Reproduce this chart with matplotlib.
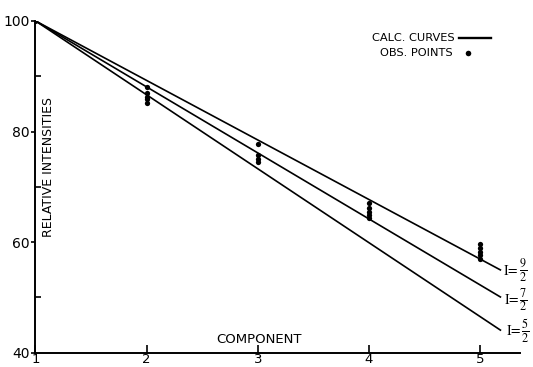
import matplotlib
matplotlib.use("Agg")
import matplotlib.pyplot as plt

plt.rcParams["mathtext.fontset"] = "stix"

# Calculated intensity curves (straight lines from the origin at component 1)
curve_x = [1.0, 5.19]
curve_92 = [100.0, 54.9]
curve_72 = [100.0, 50.0]
curve_52 = [100.0, 44.0]
curve_spins = [r"$\frac{9}{2}$", r"$\frac{7}{2}$", r"$\frac{5}{2}$"]

# Observed relative intensities per component
obs_x = [1, 2, 2, 2, 2, 2, 3, 3, 3, 3, 4, 4, 4, 4, 4, 5, 5, 5, 5, 5]
obs_y = [100.0, 88.0, 86.9, 86.3, 85.8, 85.2, 77.8, 75.8, 75.0, 74.4,
         67.0, 66.2, 65.5, 64.9, 64.4, 59.6, 58.9, 58.2, 57.6, 57.0]

x_ticks = [1, 2, 3, 4, 5]
y_major = [40, 60, 80, 100]
y_minor = [50, 70, 90]

fig = plt.figure(figsize=(5.33, 3.67), dpi=100)
ax = fig.add_axes([0.0666, 0.039, 0.909, 0.904])

for ys in (curve_92, curve_72, curve_52):
    ax.plot(curve_x, ys, color="black", lw=1.2, solid_capstyle="butt")
ax.plot(obs_x, obs_y, "o", color="black", ms=3.8, mew=0)

ax.set_xlim(1, 5.36)
ax.set_ylim(40, 100)
for side in ("top", "right"):
    ax.spines[side].set_visible(False)
for side in ("left", "bottom"):
    ax.spines[side].set_linewidth(1.4)

ax.set_xticks(x_ticks)
ax.set_xticklabels([str(v) for v in x_ticks])
ax.tick_params(axis="x", direction="in", length=6, width=1.2, pad=0.3, labelsize=9.5)
ax.set_yticks(y_major)
ax.set_yticklabels([str(v) for v in y_major])
ax.tick_params(axis="y", which="major", direction="out", length=3, width=1.2, pad=1, labelsize=10)
ax.set_yticks(y_minor, minor=True)
ax.tick_params(axis="y", which="minor", direction="in", length=4, width=1.2)

# Axis titles written inside the frame
ax.text(1.12, 73.6, "RELATIVE INTENSITIES", rotation=90, ha="center", va="center",
        fontsize=9)
ax.text(3.01, 42.4, "COMPONENT", ha="center", va="center", fontsize=9.5)

# Curve labels at the line ends: "I =" followed by the spin fraction
label_y = [54.8, 49.5, 43.9]
label_x = [5.21, 5.215, 5.23]
for spin, xv, yv in zip(curve_spins, label_x, label_y):
    ax.annotate(r"$\mathrm{I}\!=$", xy=(xv, yv), ha="left", va="center",
                fontsize=10, annotation_clip=False)
    ax.annotate(spin, xy=(xv, yv), xytext=(11.2, 0), textcoords="offset points",
                ha="left", va="center", fontsize=12.5, annotation_clip=False)

# Key
ax.text(4.776, 96.9, "CALC. CURVES", ha="right", va="center", fontsize=8.2)
ax.plot([4.81, 5.10], [96.9, 96.9], color="black", lw=1.7, clip_on=False)
ax.text(4.758, 94.2, "OBS. POINTS", ha="right", va="center", fontsize=8.2)
ax.plot([4.893], [94.2], "o", color="black", ms=4, mew=0, clip_on=False)

fig.savefig("out.png", dpi=100)
